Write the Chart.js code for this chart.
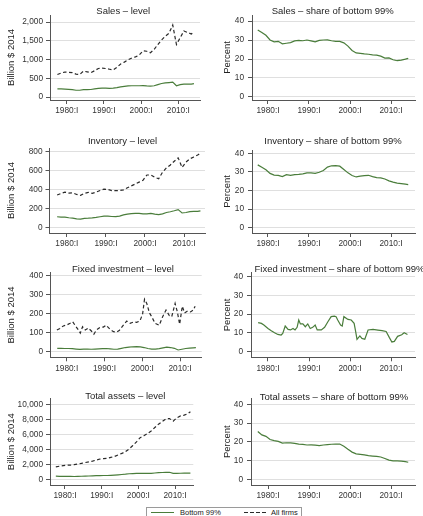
<!DOCTYPE html>
<html>
<head>
<meta charset="utf-8">
<script src="https://cdn.jsdelivr.net/npm/chart.js@4/dist/chart.umd.min.js"></script>
<style>
  html, body { margin: 0; padding: 0; background: #fff; }
  #wrap { position: relative; width: 423px; height: 516px; overflow: hidden; background: #fff; }
  #wrap canvas { position: absolute; left: 0; top: 0; }
  .legend { position: absolute; left: 146px; top: 507px; width: 154px; height: 16px;
            border: 1px solid #9a9a9a; background: #fff;
            font-family: "Liberation Sans", Arial, sans-serif; font-size: 7.5px; color: #222; }
  .legend .lab { position: absolute; top: 0px; line-height: 10px; white-space: nowrap; }
  .legend .solid { position: absolute; top: 4px; width: 23px; height: 1.2px; background: #4a7d3b; }
  .legend .dash { position: absolute; top: 4px; width: 23px; height: 1.2px;
                  background: repeating-linear-gradient(90deg, #2a2a2a 0 3.5px, transparent 3.5px 6px); }
</style>
</head>
<body>
<div id="wrap">
  <div class="legend">
    <span class="solid" style="left:4px"></span><span class="lab" style="left:33px">Bottom 99%</span>
    <span class="dash" style="left:97px"></span><span class="lab" style="left:124px">All firms</span>
  </div>
</div>
<script>
// Observation dates (mid-year readings), decimal years
const years = [1977.5, 1978.5, 1979.5, 1980.5, 1981.5, 1982.5, 1983.5, 1984.5, 1985.5, 1986.5,
  1987.5, 1988.5, 1989.5, 1990.5, 1991.5, 1992.5, 1993.5, 1994.5, 1995.5, 1996.5,
  1997.5, 1998.5, 1999.5, 2000.5, 2001.5, 2002.5, 2003.5, 2004.5, 2005.5, 2006.5,
  2007.5, 2008.5, 2009.5, 2010.5, 2011.5, 2012.5, 2013.5, 2014.2];

// Sales, billion $ 2014
const salesAll = [600, 640, 665, 660, 650, 610, 600, 690, 670, 650, 700, 760, 770, 760, 740, 720, 790, 880, 930, 990,
  1040, 1070, 1120, 1230, 1220, 1180, 1270, 1400, 1520, 1620, 1700, 1920, 1400, 1580, 1760, 1720, 1680, 1740];
const salesBottom = [215, 215, 210, 205, 195, 180, 180, 195, 195, 200, 215, 230, 235, 235, 230, 235, 250, 270, 285, 295,
  300, 300, 300, 305, 295, 290, 300, 330, 360, 375, 385, 395, 300, 330, 345, 345, 345, 355];
const salesShare = [35.3, 34, 32.5, 30, 29, 29.3, 28, 28.3, 28.6, 29.5, 29.8, 29.6, 30, 29.5, 29, 29.8, 30, 30.1, 29.6, 29.3,
  29.3, 28.5, 26.8, 24.5, 23.2, 23, 22.7, 22.5, 22.2, 22, 21.5, 20.5, 20.6, 19.6, 19.1, 19.4, 19.9, 20.3];

// Inventory, billion $ 2014
const invAll = [344, 360, 375, 365, 368, 350, 340, 362, 372, 362, 375, 392, 405, 402, 390, 390, 392, 398, 420, 440,
  460, 480, 500, 555, 555, 530, 515, 585, 630, 660, 700, 735, 635, 690, 725, 745, 765, 785];
const invBottom = [115, 112, 112, 105, 100, 92, 90, 98, 100, 103, 108, 115, 122, 122, 118, 117, 122, 135, 142, 148,
  150, 150, 145, 145, 150, 142, 138, 145, 160, 168, 178, 190, 155, 160, 170, 172, 172, 178];
const invShare = [33.8, 32.5, 31.2, 29.2, 28.3, 28.1, 27.5, 28.5, 28.2, 28.6, 28.7, 29, 29.5, 29.5, 29.2, 29.8, 30.8, 32.6, 33.3, 33.4,
  33.1, 31.3, 29.5, 28.1, 27.3, 27.7, 28, 28.2, 27.5, 26.9, 26.8, 26.2, 25.2, 24.5, 24, 23.7, 23.4, 23.2];

// Fixed investment, billion $ 2014 (all firms series is irregularly spaced)
const fixedInvYears = [1977.4, 1978.2, 1979.1, 1980.0, 1980.9, 1981.6, 1982.2, 1983.1, 1983.6, 1984.2,
  1984.9, 1985.7, 1986.6, 1987.2, 1987.9, 1988.8, 1989.7, 1990.4, 1991.5, 1992.4,
  1993.2, 1993.9, 1995.0, 1995.9, 1996.8, 1997.7, 1998.5, 1999.4, 2000.1, 2000.6,
  2001.2, 2001.9, 2002.5, 2003.4, 2004.5, 2005.4, 2006.3, 2007.2, 2007.8, 2008.7,
  2009.3, 2009.9, 2010.6, 2011.2, 2012.0, 2012.8, 2013.5, 2014.0];
const fixedInvAll = [115, 123, 136, 141, 150, 158, 140, 115, 98, 132, 115, 125, 108, 93, 115, 128, 130, 140, 118, 106,
  104, 112, 140, 162, 150, 157, 155, 163, 200, 277, 255, 205, 185, 150, 140, 185, 220, 190, 185, 255,
  210, 145, 240, 205, 215, 210, 220, 240];
const fixedInvBottom = [18, 18, 17, 17, 16, 14, 12, 14, 14, 13, 14, 15, 16, 17, 15, 13, 14, 18, 22, 24,
  26, 27, 25, 22, 17, 14, 14, 16, 20, 24, 22, 18, 9, 13, 17, 19, 20, 21];
const fixedShareYears = [1977.6, 1978.4, 1979.0, 1980.0, 1980.8, 1981.6, 1982.4, 1983.2, 1983.6, 1984.2,
  1984.9, 1985.5, 1986.1, 1986.6, 1987.1, 1987.5, 1987.9, 1988.5, 1989.1, 1989.7,
  1990.3, 1990.9, 1991.5, 1992.0, 1993.0, 1993.8, 1994.6, 1995.4, 1996.2, 1996.6,
  1997.0, 1997.7, 1998.1, 1998.5, 1999.5, 2000.3, 2001.0, 2001.3, 2001.7, 2002.4,
  2002.9, 2003.6, 2004.4, 2005.6, 2006.8, 2007.8, 2008.8, 2009.6, 2010.2, 2010.8,
  2011.6, 2012.6, 2013.2, 2014.0];
const fixedInvShare = [15.5, 15.1, 14.2, 12.4, 11.2, 10.1, 9.2, 8.9, 9.8, 13.7, 11.9, 11.6, 12.4, 11.6, 13.0, 16.9, 14.8, 14.8, 13.3, 14.8,
  12.4, 13.0, 14.2, 11.6, 11.6, 13.0, 16.0, 18.7, 19.0, 18.7, 16.9, 14.2, 13.7, 18.7, 17.2, 16.9, 15.1, 11.6, 6.6, 8.4,
  7.1, 6.6, 11.6, 11.9, 11.5, 11.2, 10.8, 7.5, 5.2, 5.5, 8.2, 9.0, 10.1, 9.2];

// Total assets, billion $ 2014
const assetsAll = [1650, 1750, 1830, 1900, 1900, 1950, 2030, 2130, 2230, 2330, 2430, 2550, 2700, 2750, 2800, 2920, 3050, 3250, 3450, 3700,
  4050, 4500, 5000, 5550, 5800, 6100, 6450, 6900, 7350, 7700, 8050, 8100, 7750, 8200, 8450, 8550, 8750, 9000];
const assetsBottom = [420, 400, 390, 385, 380, 375, 390, 410, 430, 440, 460, 480, 500, 505, 510, 530, 560, 600, 640, 680,
  740, 760, 780, 790, 780, 780, 800, 840, 880, 910, 930, 940, 800, 790, 810, 820, 830, 830];
const assetsShare = [25.5, 23.7, 22.9, 21.2, 20.6, 20.2, 19.3, 19.5, 19.4, 19.2, 18.8, 18.6, 18.3, 18.4, 18.2, 18.0, 18.3, 18.5, 18.7, 18.8,
  18.8, 17.6, 16.0, 14.5, 13.6, 13.3, 13.0, 12.6, 12.4, 12.2, 11.9, 11.1, 10.2, 9.8, 9.8, 9.7, 9.4, 9.1];

// Axis ticks
const xTickYears = [1980, 1990, 2000, 2010];
const salesTicks = [0, 500, 1000, 1500, 2000];
const inventoryTicks = [0, 200, 400, 600, 800];
const fixedTicks = [0, 100, 200, 300, 400];
const assetsTicks = [0, 2000, 4000, 6000, 8000, 10000];
const shareTicks = [0, 10, 20, 30, 40];

const FONT = '"Liberation Sans", Arial, Helvetica, sans-serif';
const GREEN = '#4a7d3b';
const DARK = '#2a2a2a';
const AXIS = '#555555';

const pts = (xs, ys) => xs.map((x, i) => ({ x: x, y: ys[i] }));
const bottomLine = (xs, ys) => ({ data: pts(xs, ys), borderColor: GREEN, borderWidth: 1.2 });
const allLine = (xs, ys) => ({ data: pts(xs, ys), borderColor: DARK, borderWidth: 1.2, borderDash: [3.5, 2.5] });

// Panel title drawn above each plot region
const panelTitle = {
  id: 'panelTitle',
  afterDraw(chart, args, opts) {
    const ctx = chart.ctx;
    ctx.save();
    ctx.font = '9.5px ' + FONT;
    ctx.fillStyle = '#1e1e1e';
    ctx.textAlign = 'center';
    ctx.textBaseline = 'middle';
    ctx.fillText(opts.text, opts.x, opts.y);
    ctx.restore();
  }
};

// Plot-region geometry (pixels) and axis ranges for each panel
const panels = [
  { title: 'Sales \u2013 level', tx: 123.3, ty: 11.7, L: 50, R: 200, T: 15, B: 100,
    x0: 1975.51, x1: 2015.83, y0: -80, y1: 2186.7, ticks: salesTicks, yTitle: 'Billion $ 2014',
    sets: [bottomLine(years, salesBottom), allLine(years, salesAll)] },
  { title: 'Sales \u2013 share of bottom 99%', tx: 332.7, ty: 11.7, L: 252, R: 415, T: 15, B: 100,
    x0: 1976.10, x1: 2015.85, y0: -1.58, y1: 43.16, ticks: shareTicks, yTitle: 'Percent',
    sets: [bottomLine(years, salesShare)] },
  { title: 'Inventory \u2013 level', tx: 122.5, ty: 141.7, L: 49.5, R: 205, T: 148, B: 233,
    x0: 1975.55, x1: 2015.37, y0: -55.8, y1: 839, ticks: inventoryTicks, yTitle: 'Billion $ 2014',
    sets: [bottomLine(years, invBottom), allLine(years, invAll)] },
  { title: 'Inventory \u2013 share of bottom 99%', tx: 333, ty: 141.7, L: 252, R: 415, T: 150, B: 233,
    x0: 1976.10, x1: 2015.85, y0: -2.85, y1: 41.8, ticks: shareTicks, yTitle: 'Percent',
    sets: [bottomLine(years, invShare)] },
  { title: 'Fixed investment \u2013 level', tx: 123, ty: 269, L: 50, R: 201.7, T: 272.7, B: 357.3,
    x0: 1975.58, x1: 2015.74, y0: -29.6, y1: 417.4, ticks: fixedTicks, yTitle: 'Billion $ 2014',
    sets: [bottomLine(years, fixedInvBottom), allLine(fixedInvYears, fixedInvAll)] },
  { title: 'Fixed investment \u2013 share of bottom 99%', tx: 339.5, ty: 269.3, L: 251, R: 415, T: 272.7, B: 357.3,
    x0: 1975.86, x1: 2015.84, y0: -2.99, y1: 42.13, ticks: shareTicks, yTitle: 'Percent',
    sets: [bottomLine(fixedShareYears, fixedInvShare)] },
  { title: 'Total assets \u2013 level', tx: 125.3, ty: 396.7, L: 50, R: 193.3, T: 398.3, B: 485,
    x0: 1975.91, x1: 2014.99, y0: -760, y1: 10800, ticks: assetsTicks, yTitle: 'Billion $ 2014',
    sets: [bottomLine(years, assetsBottom), allLine(years, assetsAll)] },
  { title: 'Total assets \u2013 share of bottom 99%', tx: 334, ty: 397.5, L: 251, R: 415, T: 398.3, B: 485,
    x0: 1975.85, x1: 2015.85, y0: -3.04, y1: 43.2, ticks: shareTicks, yTitle: 'Percent',
    sets: [bottomLine(years, assetsShare)] }
];

const wrap = document.getElementById('wrap');
const W = 423, H = 516, X_AXIS_H = 30;

panels.forEach(p => {
  const cv = document.createElement('canvas');
  cv.width = W; cv.height = H;
  cv.style.width = W + 'px'; cv.style.height = H + 'px';
  wrap.insertBefore(cv, wrap.firstChild);
  const colLeft = p.L < 211 ? 0 : 211;
  const yW = p.L - colLeft;
  const titleX = colLeft === 0 ? 11.7 : 227.5;

  new Chart(cv, {
    type: 'line',
    data: {
      datasets: p.sets.map(s => Object.assign({ pointRadius: 0, tension: 0, fill: false }, s))
    },
    options: {
      responsive: false,
      animation: false,
      events: [],
      devicePixelRatio: 1,
      layout: { padding: { left: colLeft, right: W - p.R, top: p.T, bottom: H - p.B - X_AXIS_H } },
      plugins: {
        legend: { display: false },
        tooltip: { enabled: false },
        panelTitle: { text: p.title, x: p.tx, y: p.ty }
      },
      scales: {
        x: {
          type: 'linear', min: p.x0, max: p.x1,
          afterFit: s => { s.height = X_AXIS_H; },
          afterBuildTicks: s => { s.ticks = xTickYears.map(v => ({ value: v })); },
          ticks: {
            callback: v => v + ':I', autoSkip: false, maxRotation: 0, padding: 2,
            color: '#333', font: { family: FONT, size: 8.3 }
          },
          grid: { drawOnChartArea: false, drawTicks: true, tickLength: 4, tickColor: AXIS, tickWidth: 1 },
          border: { display: true, color: AXIS, width: 1 }
        },
        y: {
          type: 'linear', min: p.y0, max: p.y1,
          afterFit: s => { s.width = yW; },
          afterBuildTicks: s => { s.ticks = p.ticks.map(v => ({ value: v })); },
          ticks: {
            callback: v => Number(v).toLocaleString('en-US'), padding: colLeft === 0 ? 3 : 4,
            color: '#333', font: { family: FONT, size: 8.3 }
          },
          grid: { color: '#dfdfdf', lineWidth: 1, drawTicks: true, tickLength: 4, tickColor: AXIS, tickWidth: 1 },
          border: { display: true, color: AXIS, width: 1 },
          title: {
            display: true, text: p.yTitle, color: '#222',
            font: { family: FONT, size: 9.5 },
            padding: { top: titleX - colLeft - 5.7, bottom: 0 }
          }
        }
      }
    },
    plugins: [panelTitle]
  });
});
</script>
</body>
</html>
